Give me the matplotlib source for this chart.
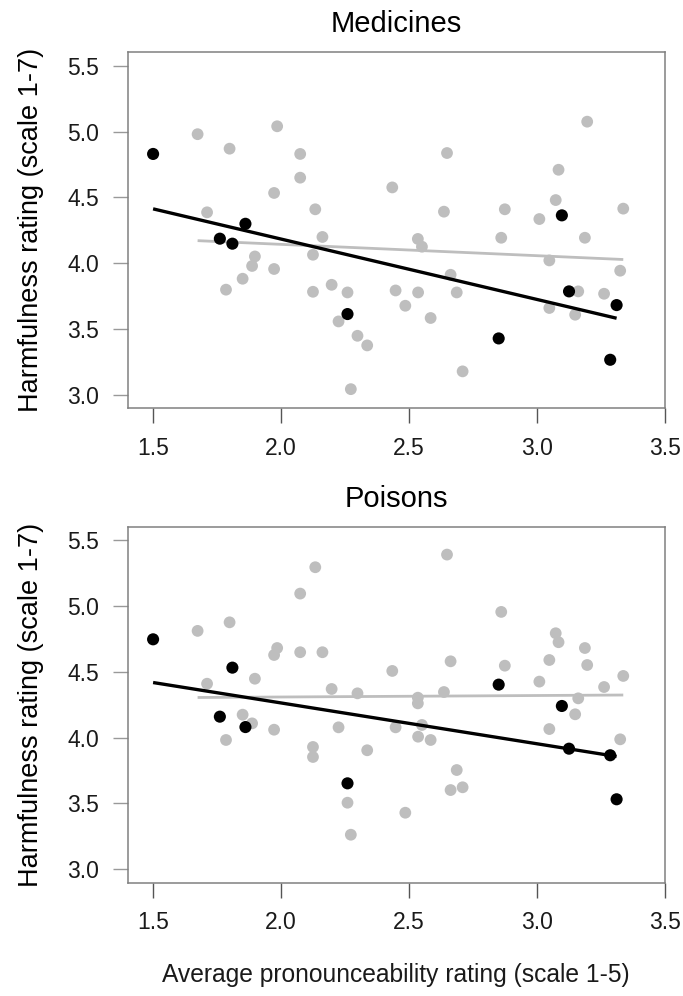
import numpy as np
import matplotlib
matplotlib.use("Agg")
import matplotlib.pyplot as plt

plt.rcParams['font.family'] = ['Liberation Sans', 'DejaVu Sans']

titles = ["Medicines", "Poisons"]
xlabel = "Average pronounceability rating (scale 1-5)"
ylabel = "Harmfulness rating (scale 1-7)"
xticks = [1.5, 2.0, 2.5, 3.0, 3.5]
yticks = [3.0, 3.5, 4.0, 4.5, 5.0, 5.5]

black_x = [1.50, 1.761, 1.81, 1.861, 2.26, 2.851, 3.098, 3.126, 3.287, 3.312]
med_black_y = [4.83, 4.187, 4.149, 4.30, 3.615, 3.43, 4.364, 3.787, 3.268, 3.683]
poi_black_y = [4.746, 4.159, 4.531, 4.08, 3.653, 4.402, 4.24, 3.916, 3.866, 3.532]

med_gray_x = [1.674, 1.985, 1.799, 2.075, 2.075, 1.973, 2.134, 1.711, 2.162, 1.898,
              1.887, 1.973, 2.125, 1.85, 1.785, 2.125, 2.198, 2.26, 2.225, 2.299,
              2.337, 2.273, 2.649, 2.435, 2.637, 2.535, 2.551, 2.663, 2.448, 2.536,
              2.687, 2.486, 2.585, 2.71, 3.197, 3.085, 3.074, 2.875, 3.338, 3.01,
              2.861, 3.188, 3.049, 3.326, 3.162, 3.263, 3.049, 3.15]
med_gray_y = [4.98, 5.04, 4.87, 4.83, 4.65, 4.534, 4.41, 4.387, 4.20, 4.052,
              3.98, 3.957, 4.065, 3.883, 3.80, 3.784, 3.837, 3.779, 3.559, 3.45,
              3.377, 3.045, 4.837, 4.576, 4.392, 4.185, 4.126, 3.913, 3.794, 3.779,
              3.779, 3.678, 3.585, 3.18, 5.075, 4.71, 4.48, 4.41, 4.415, 4.336,
              4.194, 4.194, 4.022, 3.944, 3.787, 3.769, 3.661, 3.61]

poi_gray_x = [1.674, 1.799, 2.075, 2.134, 1.985, 1.973, 2.075, 2.162, 1.898, 1.711,
              1.85, 1.887, 1.973, 1.785, 2.125, 2.125, 2.649, 2.663, 2.435, 2.198,
              2.299, 2.535, 2.535, 2.637, 2.225, 2.448, 2.551, 2.536, 2.585, 2.337,
              2.687, 2.663, 2.71, 2.26, 2.486, 2.273, 2.861, 3.074, 3.085, 3.188,
              3.049, 2.875, 3.197, 3.338, 3.01, 3.263, 3.162, 3.15, 3.049, 3.326]
poi_gray_y = [4.81, 4.875, 5.093, 5.293, 4.68, 4.627, 4.648, 4.648, 4.447, 4.409,
              4.174, 4.108, 4.06, 3.982, 3.929, 3.853, 5.389, 4.579, 4.506, 4.369,
              4.336, 4.303, 4.26, 4.346, 4.078, 4.078, 4.096, 4.007, 3.982, 3.904,
              3.754, 3.602, 3.623, 3.506, 3.43, 3.263, 4.954, 4.792, 4.724, 4.68,
              4.589, 4.546, 4.551, 4.468, 4.425, 4.384, 4.298, 4.177, 4.065, 3.987]

GRAY = '#bebebe'

fig = plt.figure(figsize=(6.83, 9.96), dpi=100)
ax_top = fig.add_axes([0.1867, 0.5901, 0.7865, 0.3572])
ax_bot = fig.add_axes([0.1867, 0.1139, 0.7865, 0.3572])

panels = [
    (ax_top, titles[0], med_gray_x, med_gray_y, med_black_y),
    (ax_bot, titles[1], poi_gray_x, poi_gray_y, poi_black_y),
]


def fit_line(ax, xs, ys, color, lw, z):
    xs = np.asarray(xs); ys = np.asarray(ys)
    b, a = np.polyfit(xs, ys, 1)
    xx = np.array([xs.min(), xs.max()])
    ax.plot(xx, a + b * xx, color=color, lw=lw, zorder=z, solid_capstyle='butt')


for ax, title, gx, gy, by in panels:
    ax.scatter(gx, gy, s=72, color=GRAY, edgecolors='none', zorder=2)
    fit_line(ax, gx, gy, GRAY, 2.0, 3)
    ax.scatter(black_x, by, s=76, color='black', edgecolors='none', zorder=4)
    fit_line(ax, black_x, by, 'black', 2.4, 5)

    ax.set_xlim(1.4, 3.5)
    ax.set_ylim(2.9, 5.6)
    ax.set_xticks(xticks)
    ax.set_xticklabels([f"{v:.1f}" for v in xticks])
    ax.set_yticks(yticks)
    ax.set_yticklabels([f"{v:.1f}" for v in yticks])
    for s in ax.spines.values():
        s.set_color('#808080')
        s.set_linewidth(1.1)
    ax.tick_params(axis='y', length=10.5, width=1.0, color='#999999', pad=10,
                   labelsize=16.5, labelcolor='#1a1a1a')
    ax.tick_params(axis='x', length=10.5, width=1.0, color='#555555', pad=10,
                   labelsize=16.5, labelcolor='#1a1a1a')
    ax.set_title(title, fontsize=21, pad=14.5, color='black')
    ax.set_ylabel(ylabel, fontsize=19.5, color='black')
    ax.yaxis.set_label_coords(-0.155, 0.5)

ax_bot.set_xlabel(xlabel, fontsize=17.7, color='#1a1a1a', labelpad=21)

fig.savefig('out.png', dpi=100, facecolor='white')
